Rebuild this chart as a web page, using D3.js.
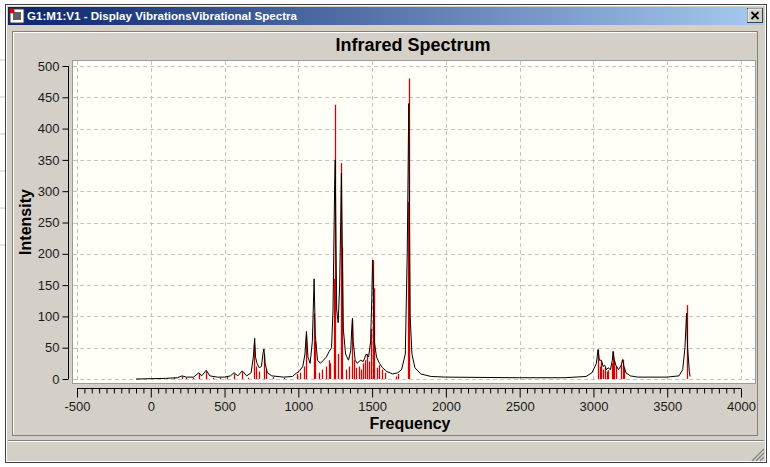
<!DOCTYPE html>
<html>
<head>
<meta charset="utf-8">
<script src="https://cdn.jsdelivr.net/npm/d3@7"></script>
<style>
    html, body { margin: 0; padding: 0; background: #ffffff; overflow: hidden; }
    svg { display: block; }
    text { font-family: "Liberation Sans", Arial, sans-serif; }
</style>
</head>
<body>
<div class="Canvas"></div>
<script>
// window / chart text
let windowTitle = 'G1:M1:V1 - Display VibrationsVibrational Spectra';
let chartTitle = 'Infrared Spectrum';
let xLabel = 'Frequency';
let yLabel = 'Intensity';

// axes
let xTicks = [-500, 0, 500, 1000, 1500, 2000, 2500, 3000, 3500, 4000];
let yTicks = [0, 50, 100, 150, 200, 250, 300, 350, 400, 450, 500];

// stick spectrum: [frequency, intensity]
let sticks = [
    [48, 1], [110, 1], [160, 2], [212, 4], [240, 2], [283, 2], [326, 9], [376, 12], [420, 2],
    [470, 2], [516, 3], [564, 8], [620, 11], [660, 2], [700, 55], [712, 20], [735, 12], [767, 40],
    [780, 15], [830, 3], [900, 2], [990, 8], [1010, 10], [1040, 20], [1055, 70], [1105, 105],
    [1112, 60], [1140, 10], [1160, 15], [1185, 20], [1205, 30], [1215, 25], [1243, 160], [1250, 438],
    [1270, 40], [1290, 345], [1298, 210], [1320, 15], [1345, 20], [1367, 95], [1375, 30], [1392, 18],
    [1410, 20], [1425, 15], [1440, 25], [1455, 30], [1465, 40], [1476, 28], [1495, 80], [1503, 190],
    [1510, 145], [1530, 18], [1545, 22], [1565, 15], [1590, 10], [1660, 4], [1673, 8], [1740, 283],
    [1748, 480], [3031, 47], [3045, 20], [3054, 28], [3065, 15], [3076, 18], [3090, 12], [3099, 14],
    [3128, 25], [3133, 44], [3140, 30], [3151, 20], [3190, 22], [3197, 31], [3210, 18], [3631, 118]
];

// broadened spectrum: [frequency, intensity]
let curve = [
    [-100, 0], [0, 0.5], [100, 1], [180, 2], [212, 5], [240, 3], [290, 3], [326, 10], [345, 5],
    [376, 14], [400, 5], [450, 3], [500, 3], [540, 5], [564, 10], [590, 5], [620, 13], [650, 5],
    [680, 10], [695, 35], [704, 65], [710, 35], [720, 25], [735, 18], [750, 20], [760, 40], [767, 48],
    [775, 25], [790, 10], [820, 5], [900, 3], [960, 4], [990, 10], [1005, 12], [1030, 20], [1045, 40],
    [1055, 76], [1065, 35], [1080, 25], [1095, 60], [1107, 160], [1115, 70], [1130, 30], [1150, 25],
    [1170, 30], [1190, 35], [1209, 44], [1225, 50], [1235, 110], [1240, 200], [1246, 310], [1250, 350],
    [1254, 250], [1260, 110], [1270, 90], [1280, 150], [1287, 250], [1292, 329], [1297, 230],
    [1305, 80], [1320, 40], [1340, 30], [1355, 45], [1362, 80], [1367, 97], [1372, 60], [1385, 30],
    [1400, 25], [1420, 30], [1440, 28], [1460, 40], [1476, 35], [1490, 60], [1498, 130], [1503, 190],
    [1508, 150], [1515, 60], [1530, 35], [1550, 25], [1570, 18], [1600, 12], [1640, 8], [1673, 10],
    [1700, 15], [1725, 40], [1738, 200], [1744, 334], [1748, 440], [1752, 300], [1758, 100],
    [1770, 40], [1790, 18], [1830, 8], [1900, 4], [2000, 3], [2500, 2], [2800, 2], [2950, 4],
    [2990, 10], [3020, 25], [3031, 47], [3040, 30], [3054, 30], [3065, 20], [3076, 22], [3088, 15],
    [3099, 18], [3115, 15], [3128, 30], [3133, 44], [3142, 30], [3152, 22], [3170, 15], [3188, 22],
    [3197, 31], [3207, 20], [3220, 10], [3250, 5], [3300, 3], [3500, 3], [3580, 5], [3605, 15],
    [3620, 50], [3631, 105], [3638, 50], [3650, 12], [3655, 4]
];

let width = 770;
let height = 467;
let face = '#d4d0c8';

let svg = d3.select('.Canvas').append('svg').attr('width', width).attr('height', height);

// ---- window chrome ----
svg.append('rect').attr('x', 0).attr('y', 0).attr('width', width).attr('height', height).attr('fill', '#ffffff');
for (let i = 0; i < 6; i++) {
    svg.append('line').attr('x1', 0).attr('x2', 5).attr('y1', 60 + i * 37).attr('y2', 60 + i * 37)
        .attr('stroke', '#c8c8c8');
}

let defs = svg.append('defs');
let grad = defs.append('linearGradient').attr('id', 'titleGrad');
grad.append('stop').attr('offset', '0%').attr('stop-color', '#0a246a');
grad.append('stop').attr('offset', '100%').attr('stop-color', '#a6caf0');

// outer frame
svg.append('rect').attr('x', 5.5).attr('y', 4.5).attr('width', 761).attr('height', 458)
    .attr('fill', face).attr('stroke', '#404040');
svg.append('rect').attr('x', 6.5).attr('y', 5.5).attr('width', 759).attr('height', 456)
    .attr('fill', 'none').attr('stroke', '#ffffff');

// title bar
svg.append('rect').attr('x', 8).attr('y', 7).attr('width', 756).attr('height', 18).attr('fill', 'url(#titleGrad)');
let icon = svg.append('g').attr('transform', 'translate(10,9)');
icon.append('rect').attr('width', 14).attr('height', 14).attr('fill', '#ffffff').attr('stroke', '#404040');
icon.append('rect').attr('x', 3).attr('y', 3).attr('width', 8).attr('height', 8).attr('fill', '#606060');
icon.append('circle').attr('cx', 2).attr('cy', 2).attr('r', 2.5).attr('fill', '#e00000');
svg.append('text').attr('x', 27).attr('y', 20).attr('fill', '#ffffff').attr('font-size', '11px')
    .attr('font-weight', 'bold').attr('font-family', 'Tahoma, "DejaVu Sans", sans-serif')
    .attr('textLength', 270).attr('lengthAdjust', 'spacingAndGlyphs').text(windowTitle);

// close button
let btn = svg.append('g').attr('transform', 'translate(747,8)');
btn.append('rect').attr('x', 0.5).attr('y', 0.5).attr('width', 15).attr('height', 14).attr('fill', face)
    .attr('stroke', '#404040');
btn.append('path').attr('d', 'M1,14 V1 H15').attr('fill', 'none').attr('stroke', '#ffffff');
btn.append('path').attr('d', 'M4.5,4 L11.5,11 M11.5,4 L4.5,11').attr('stroke', '#000000').attr('stroke-width', 1.8);

// inner panel
svg.append('rect').attr('x', 12.5).attr('y', 31.5).attr('width', 745).attr('height', 404)
    .attr('fill', face).attr('stroke', '#808080');
svg.append('path').attr('d', 'M13.5,434.5 V32.5 H756.5').attr('fill', 'none').attr('stroke', '#ffffff');
svg.append('line').attr('x1', 8).attr('x2', 764).attr('y1', 441.5).attr('y2', 441.5).attr('stroke', '#ffffff');
svg.append('line').attr('x1', 8).attr('x2', 764).attr('y1', 440.5).attr('y2', 440.5).attr('stroke', '#808080');

// resize grip
for (let i = 0; i < 3; i++) {
    let o = 4 + i * 4;
    svg.append('line').attr('x1', 764 - o).attr('y1', 461).attr('x2', 764).attr('y2', 461 - o)
        .attr('stroke', '#808080').attr('stroke-width', 1.2);
}

// ---- plot ----
let plot = { left: 72, right: 755, top: 60, bottom: 383 };
let x = d3.scaleLinear().domain([-500, 4000]).range([77, 741]);
let y = d3.scaleLinear().domain([0, 500]).range([379, 66]);

svg.append('rect').attr('x', plot.left + 0.5).attr('y', plot.top + 0.5)
    .attr('width', plot.right - plot.left).attr('height', plot.bottom - plot.top)
    .attr('fill', '#fffff7').attr('stroke', '#9a9a9a');

let grid = svg.append('g').attr('stroke', '#c4c4c4').attr('stroke-dasharray', '4,3');
grid.selectAll('line.v').data(xTicks).enter().append('line')
    .attr('x1', (d) => Math.round(x(d)) + 0.5).attr('x2', (d) => Math.round(x(d)) + 0.5)
    .attr('y1', plot.top + 1).attr('y2', plot.bottom);
grid.selectAll('line.h').data(yTicks).enter().append('line')
    .attr('y1', (d) => Math.round(y(d)) + 0.5).attr('y2', (d) => Math.round(y(d)) + 0.5)
    .attr('x1', plot.left + 1).attr('x2', plot.right);

// sticks
svg.append('g').selectAll('line').data(sticks).enter().append('line')
    .attr('x1', (d) => Math.round(x(d[0])) + 0.5).attr('x2', (d) => Math.round(x(d[0])) + 0.5)
    .attr('y1', y(0)).attr('y2', (d) => y(d[1]))
    .attr('stroke', '#d80000').attr('stroke-width', 1.3);

// curve
let line = d3.line().x((d) => x(d[0])).y((d) => y(d[1]));
svg.append('path').datum(curve).attr('d', line).attr('fill', 'none').attr('stroke', '#000000')
    .attr('stroke-width', 1).attr('stroke-linejoin', 'round');

// y axis
let yAxis = d3.axisLeft(y).tickValues(yTicks).tickSize(6).tickPadding(3).tickFormat((d) => String(d));
let yg = svg.append('g').attr('transform', 'translate(68.5,0)').call(yAxis);
yg.select('.domain').attr('d', `M0,${y(500)}V${y(0)}`);
yg.selectAll('text').attr('font-size', '13px').attr('fill', '#1a1a1a')
    .attr('font-family', '"Liberation Sans", Arial, sans-serif');

// x axis with minor ticks
let minor = d3.range(-500, 4001, 50).filter((d) => d % 500 != 0);
let xAxisMinor = d3.axisBottom(x).tickValues(minor).tickSize(5).tickFormat('');
let xgm = svg.append('g').attr('transform', 'translate(0,388.5)').call(xAxisMinor);
xgm.select('.domain').remove();
let xAxis = d3.axisBottom(x).tickValues(xTicks).tickSize(9).tickPadding(4).tickFormat((d) => String(d));
let xg = svg.append('g').attr('transform', 'translate(0,388.5)').call(xAxis);
xg.select('.domain').attr('d', `M${x(-500)},0H${x(4000)}`);
xg.selectAll('text').attr('font-size', '13px').attr('fill', '#1a1a1a')
    .attr('font-family', '"Liberation Sans", Arial, sans-serif');

// labels
svg.append('text').attr('x', 413).attr('y', 51).attr('text-anchor', 'middle')
    .attr('font-size', '18px').attr('font-weight', 'bold').text(chartTitle);
svg.append('text').attr('x', 410).attr('y', 429).attr('text-anchor', 'middle')
    .attr('font-size', '16px').attr('font-weight', 'bold').text(xLabel);
svg.append('text').attr('transform', 'translate(31,222) rotate(-90)').attr('text-anchor', 'middle')
    .attr('font-size', '16px').attr('font-weight', 'bold').text(yLabel);
</script>
</body>
</html>
